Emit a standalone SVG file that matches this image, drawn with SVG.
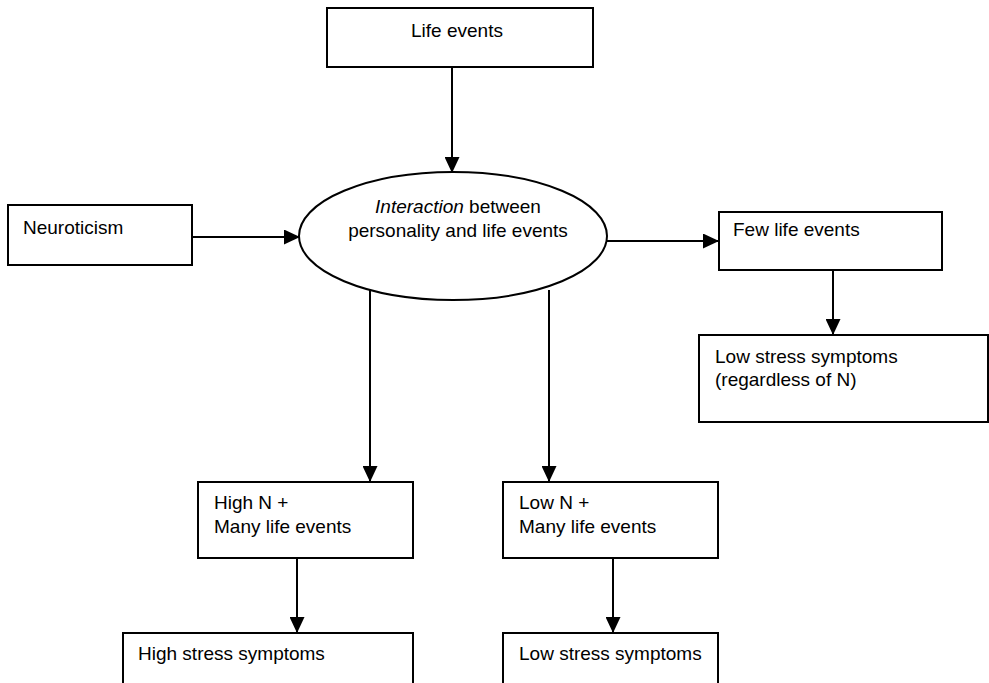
<svg xmlns="http://www.w3.org/2000/svg" width="989" height="683" viewBox="0 0 989 683">
  <defs>
    <style>
      .box { fill: #fff; stroke: #000; stroke-width: 2; }
      .lbl { font-family: "Liberation Sans", Arial, sans-serif; font-size: 19px; fill: #000; }
      .mid { text-anchor: middle; }
      .wire { fill: none; stroke: #000; stroke-width: 2; marker-end: url(#head); }
    </style>
    <marker id="head" markerUnits="userSpaceOnUse" markerWidth="16" markerHeight="15" refX="16" refY="7.5" orient="auto">
      <path d="M0,0 L16,7.5 L0,15 z" fill="#000"/>
    </marker>
  </defs>
  <rect width="989" height="683" fill="#fff"/>

  <g id="life-events">
    <rect class="box" x="327" y="8" width="266" height="59"/>
    <text class="lbl mid" x="457" y="37">Life events</text>
  </g>

  <g id="neuroticism">
    <rect class="box" x="8" y="205" width="184" height="60"/>
    <text class="lbl" x="23" y="234">Neuroticism</text>
  </g>

  <g id="interaction">
    <ellipse class="box" cx="453" cy="236" rx="154" ry="64"/>
    <text class="lbl mid" x="458" y="213"><tspan font-style="italic">Interaction</tspan> between</text>
    <text class="lbl mid" x="458" y="237">personality and life events</text>
  </g>

  <g id="few-life-events">
    <rect class="box" x="719" y="212" width="223" height="58"/>
    <text class="lbl" x="733" y="236">Few life events</text>
  </g>

  <g id="low-stress-regardless">
    <rect class="box" x="699" y="335" width="289" height="87"/>
    <text class="lbl" x="715" y="363">Low stress symptoms</text>
    <text class="lbl" x="715" y="386">(regardless of N)</text>
  </g>

  <g id="high-n">
    <rect class="box" x="198" y="482" width="215" height="76"/>
    <text class="lbl" x="214" y="509">High N +</text>
    <text class="lbl" x="214" y="533">Many life events</text>
  </g>

  <g id="low-n">
    <rect class="box" x="503" y="482" width="215" height="76"/>
    <text class="lbl" x="519" y="509">Low N +</text>
    <text class="lbl" x="519" y="533">Many life events</text>
  </g>

  <g id="high-stress">
    <rect class="box" x="123" y="633" width="290" height="70"/>
    <text class="lbl" x="138" y="660">High stress symptoms</text>
  </g>

  <g id="low-stress">
    <rect class="box" x="503" y="633" width="215" height="70"/>
    <text class="lbl" x="519" y="660">Low stress symptoms</text>
  </g>

  <g id="connectors">
    <path class="wire" d="M452,67 L452,173"/>
    <path class="wire" d="M192,237 L300,237"/>
    <path class="wire" d="M606,241 L719,241"/>
    <path class="wire" d="M833,270 L833,335"/>
    <path class="wire" d="M370,290 L370,482"/>
    <path class="wire" d="M549,290 L549,482"/>
    <path class="wire" d="M297,558 L297,633"/>
    <path class="wire" d="M613,558 L613,633"/>
  </g>
</svg>
